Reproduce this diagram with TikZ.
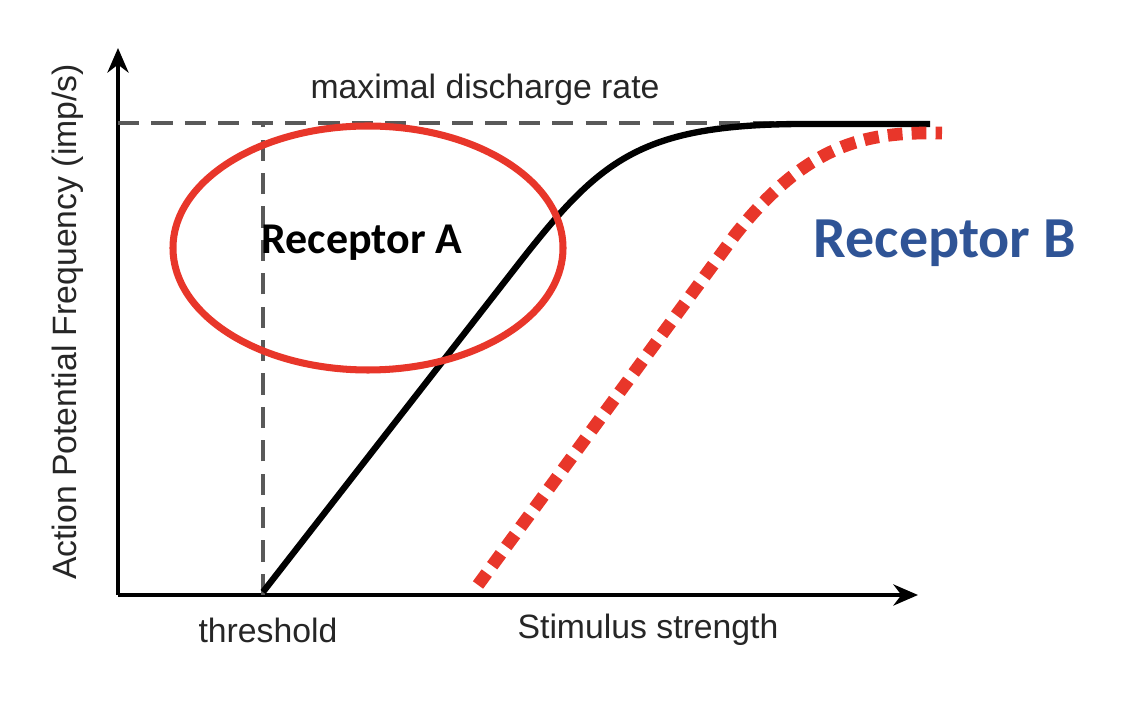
\documentclass[tikz,border=0pt]{standalone}
\usepackage{fontspec}
\setmainfont{Liberation Sans}
\newfontfamily\carlitofont{Carlito}
\usetikzlibrary{arrows.meta}
\definecolor{recb}{HTML}{2F5496}
\definecolor{redc}{HTML}{E8362A}
\begin{document}
\begin{tikzpicture}[x=0.01cm,y=-0.01cm,
  axis/.style={line width=1.1pt,-{Stealth[length=7pt,width=6pt]}},
  guide/.style={line width=1pt,dash pattern=on 6pt off 3.5pt,black!65},
  lbl/.style={font=\fontsize{9.6}{12}\selectfont,text=black!85}]
\useasboundingbox (0,0) rectangle (1124,716);
\coordinate (o) at (118,595);
\coordinate (ytop) at (118,48);
\coordinate (xend) at (918,595);
\draw[axis] (o) -- (ytop);
\draw[axis] (o) -- (xend);
\coordinate (mr) at (930,123);
\coordinate (my) at (118,123);
\coordinate (th) at (263,595);
\coordinate (tht) at (263,123);
\draw[guide] (my) -- (mr);
\draw[guide] (th) -- (tht);
\draw[line width=1.8pt] (263,592) -- (520,262) .. controls (600,160) and (640,125) .. (800,124) -- (930,124);
\draw[redc,line width=3.6pt,dash pattern=on 4.2pt off 2.6pt] (478,585) -- (735,235) .. controls (810,140) and (870,132) .. (942,133);
\draw[redc,line width=2pt] (368,248) ellipse [x radius=195,y radius=122];
\node[lbl] (max) at (485,90) {maximal discharge rate};
\node[font=\carlitofont\bfseries\fontsize{12.5}{14}\selectfont] (ra) at (362,243) {Receptor A};
\node[font=\carlitofont\bfseries\fontsize{16.5}{18}\selectfont,text=recb] (rb) at (945,243) {Receptor B};
\node[lbl] (thr) at (268,630) {threshold};
\node[lbl] (stim) at (648,630) {Stimulus strength};
\node[lbl,rotate=90] (yl) at (68,322) {Action Potential Frequency (imp/s)};
\end{tikzpicture}
\end{document}
